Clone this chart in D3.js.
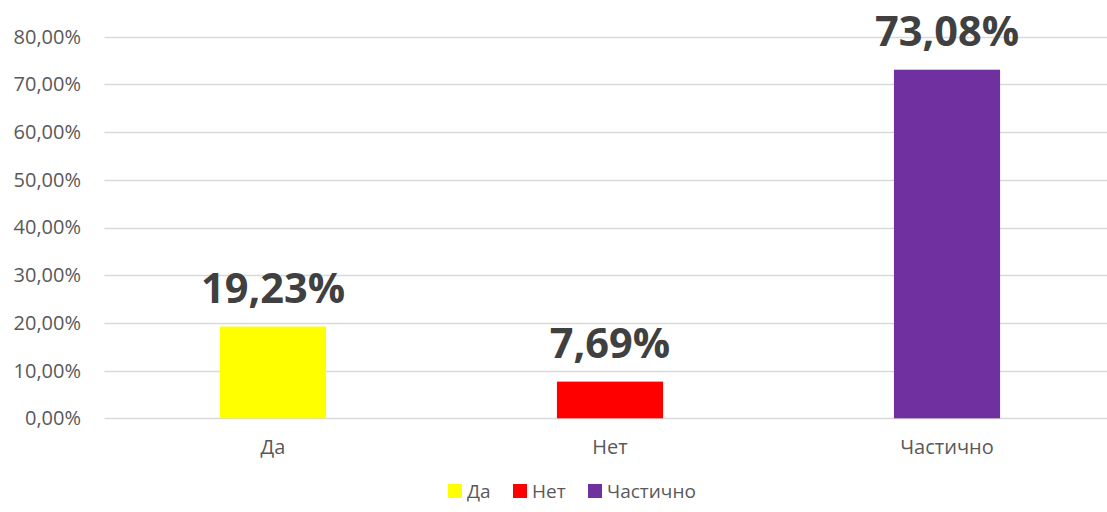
<!DOCTYPE html>
<html>
<head>
<meta charset="utf-8">
<script src="https://cdn.jsdelivr.net/npm/d3@7"></script>
<style>
  html, body { margin: 0; padding: 0; background: #fff; }
  svg { display: block; font-family: "Open Sans", "Noto Sans", sans-serif; }
</style>
</head>
<body>
<svg id="chart" width="1107" height="512"></svg>
<script>
// Response shares per answer
const categories = ["Да", "Нет", "Частично"];
const values = [19.23, 7.69, 73.08];
const colors = ["#ffff00", "#ff0000", "#7030a0"];
const yTicks = [0, 10, 20, 30, 40, 50, 60, 70, 80];

const svg = d3.select("#chart");
const plot = { left: 104.5, right: 1115.5, top: 36.7, bottom: 418.3 };

const x = d3.scaleBand()
  .domain(categories)
  .range([plot.left, plot.right])
  .paddingInner(0.685)
  .paddingOuter(0.3425);

const y = d3.scaleLinear()
  .domain([0, 80])
  .range([plot.bottom, plot.top]);

const fmt = v => v.toFixed(2).replace(".", ",") + "%";

// Horizontal gridlines
svg.append("g")
  .selectAll("line")
  .data(yTicks)
  .join("line")
  .attr("x1", plot.left)
  .attr("x2", plot.right)
  .attr("y1", d => Math.round(y(d)) + 0.5)
  .attr("y2", d => Math.round(y(d)) + 0.5)
  .attr("stroke", "#d9d9d9")
  .attr("stroke-width", 1.3);

// Y axis labels
const yAxis = d3.axisLeft(y).tickValues(yTicks).tickFormat(fmt).tickSize(0).tickPadding(0);
svg.append("g")
  .attr("transform", `translate(81,0)`)
  .call(yAxis)
  .call(g => g.select(".domain").remove())
  .call(g => g.selectAll("text")
    .attr("fill", "#595959")
    .attr("font-size", 20)
    .attr("font-family", "'Open Sans', sans-serif"));

// Bars
svg.append("g")
  .selectAll("rect")
  .data(values)
  .join("rect")
  .attr("x", (d, i) => x(categories[i]))
  .attr("width", x.bandwidth())
  .attr("y", d => y(d))
  .attr("height", d => y(0) - y(d))
  .attr("fill", (d, i) => colors[i]);

// Value labels
svg.append("g")
  .selectAll("text")
  .data(values)
  .join("text")
  .attr("x", (d, i) => x(categories[i]) + x.bandwidth() / 2)
  .attr("y", d => y(d) - 24)
  .attr("text-anchor", "middle")
  .attr("font-size", 41.5)
  .attr("font-weight", 700)
  .attr("fill", "#404040")
  .text(d => fmt(d));

// Category axis
const xAxis = d3.axisBottom(x).tickSize(0).tickPadding(0);
svg.append("g")
  .attr("transform", `translate(0,${plot.bottom + 21})`)
  .call(xAxis)
  .call(g => g.select(".domain").remove())
  .call(g => g.selectAll("text")
    .attr("fill", "#595959")
    .attr("font-size", 20)
    .attr("font-family", "'Open Sans', sans-serif"));

// Legend
const legendX = [448, 513, 588];
const legend = svg.append("g")
  .selectAll("g")
  .data(categories)
  .join("g")
  .attr("transform", (d, i) => `translate(${legendX[i]},484)`);
legend.append("rect")
  .attr("width", 14)
  .attr("height", 14)
  .attr("fill", (d, i) => colors[i]);
legend.append("text")
  .attr("x", 19)
  .attr("y", 14)
  .attr("font-size", 19)
  .attr("fill", "#595959")
  .text(d => d);
</script>
</body>
</html>
